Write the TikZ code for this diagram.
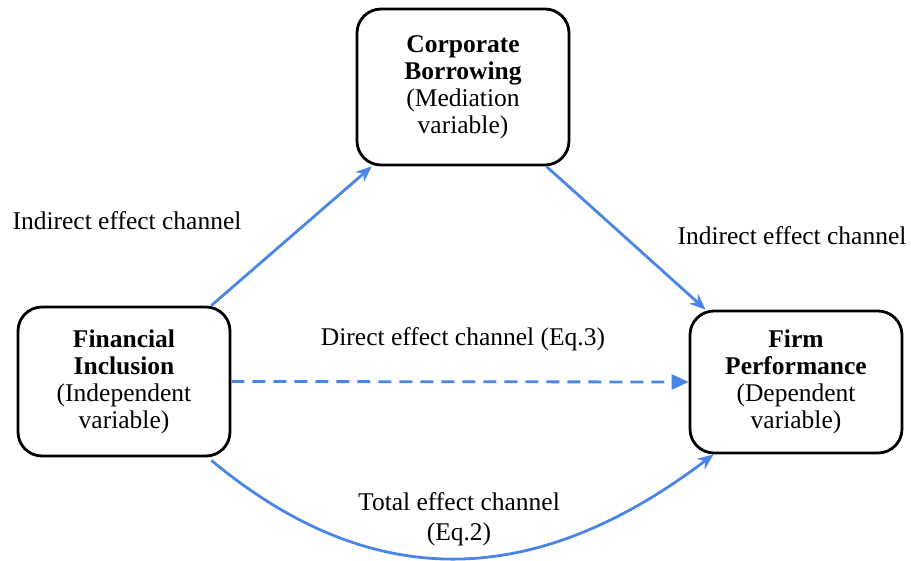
\documentclass[tikz,border=0pt]{standalone}
\usepackage{fontspec}
\setmainfont{Liberation Serif}
\usetikzlibrary{arrows.meta,calc}
\definecolor{flowblue}{HTML}{4A86E8}
\begin{document}
\begin{tikzpicture}[x=1pt,y=-1pt,
  varbox/.style={draw=black,line width=2.8pt,rounded corners=24pt,fill=white,
    align=center,inner sep=0pt,font=\fontsize{25.5}{27}\selectfont},
  lbl/.style={align=center,inner sep=0pt,font=\fontsize{25.5}{30}\selectfont},
  flow/.style={draw=flowblue,line width=2.8pt,-{Stealth[length=16pt,width=13pt,inset=5pt]}},
  dflow/.style={draw=flowblue,line width=2.8pt,dash pattern=on 13pt off 8pt,-{Triangle[length=17pt,width=15pt]}}]
\useasboundingbox (0,0) rectangle (911,561);
\node[varbox,minimum width=212pt,minimum height=149pt] (FI) at (124,381.5)
  {\textbf{Financial}\\\textbf{Inclusion}\\(Independent\\variable)};
\node[varbox,minimum width=212pt,minimum height=156pt] (CB) at (463,87)
  {\textbf{Corporate}\\\textbf{Borrowing}\\(Mediation\\variable)};
\node[varbox,minimum width=212pt,minimum height=142pt] (FP) at (796,382)
  {\textbf{Firm}\\\textbf{Performance}\\(Dependent\\variable)};
\node[lbl] (L1) at (127,221) {Indirect effect channel};
\node[lbl] (L2) at (792,236) {Indirect effect channel};
\node[lbl] (L3) at (463,339) {Direct effect channel (Eq.3)};
\node[lbl] (L4) at (459,519) {Total effect channel\\(Eq.2)};
\draw[flow] (FI) -- (CB);
\draw[flow] ($(CB.south east)+(-24,0)$) -- ($(FP.north west)+(17,0)$);
\draw[dflow] (FI.east) -- (FP.west);
\draw[flow] ($(FI.south east)+(-20,3)$) .. controls (372,594) and (535,590) .. ($(FP.south west)+(25,0)$);
\end{tikzpicture}
\end{document}
